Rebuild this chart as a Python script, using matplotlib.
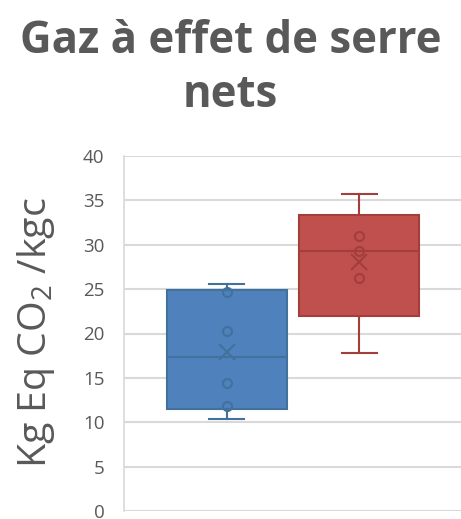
import numpy as np
import matplotlib
matplotlib.use("Agg")
import matplotlib.pyplot as plt

# Data
categories = ["Série 1", "Série 2"]
series_a = [10.4, 11.85, 14.4, 20.3, 24.7, 25.6]
series_b = [17.75, 26.3, 29.35, 31.0, 35.7]
yticks = [0, 5, 10, 15, 20, 25, 30, 35, 40]

title_lines = ["Gaz à effet de serre", "nets"]
ylabel = "Kg Eq CO$_2$ /kgc"

fills = ["#4f81bd", "#c0504d"]
edges = ["#41719c", "#a33e3b"]
text_col = "#595959"

plt.rcParams["mathtext.fontset"] = "custom"
plt.rcParams["mathtext.rm"] = "Open Sans"
plt.rcParams["mathtext.it"] = "Open Sans"

fig = plt.figure(figsize=(4.61, 5.19), dpi=100)
W, H = 461, 519
ax = fig.add_axes([124 / W, 8 / H, 1 - 124 / W, 355 / H])

positions = [1, 2]
for data, pos, fc, ec in zip([series_a, series_b], positions, fills, edges):
    d = np.array(data)
    q1, med, q3 = np.percentile(d, [25, 50, 75], method="weibull")
    stats = [dict(med=med, q1=q1, q3=q3, whislo=d.min(), whishi=d.max(),
                  mean=d.mean(), fliers=[])]
    ax.bxp(stats, positions=[pos], widths=0.905, capwidths=0.266,
           patch_artist=True, showmeans=True, meanline=False,
           boxprops=dict(facecolor=fc, edgecolor=ec, linewidth=1.5),
           medianprops=dict(color=ec, linewidth=1.5),
           whiskerprops=dict(color=ec, linewidth=1.5),
           capprops=dict(color=ec, linewidth=1.5),
           meanprops=dict(marker="x", markeredgecolor=ec, markersize=12,
                          markeredgewidth=1.5),
           zorder=3)
    inner = d[(d > d.min()) & (d < d.max())]
    ax.plot([pos] * len(inner), inner, linestyle="none", marker="o",
            markersize=6.5, markerfacecolor="none", markeredgecolor=ec,
            markeredgewidth=1.5, zorder=4)

ax.set_xlim(0.2255, 2.767)
ax.set_ylim(0, 40)
ax.set_yticks(yticks)
ax.set_yticklabels([str(t) for t in yticks], fontsize=13.5, color=text_col,
                   family="Open Sans")
ax.set_xticks([])
ax.tick_params(axis="y", length=0, pad=14)
ax.yaxis.grid(True, color="#d9d9d9", linewidth=1.5)
ax.set_axisbelow(True)
for s in ["top", "right", "bottom"]:
    ax.spines[s].set_visible(False)
ax.spines["left"].set_color("#d9d9d9")
ax.spines["left"].set_linewidth(1.2)

renderer = fig.canvas.get_renderer()

def fit(t, target_px, horizontal=True):
    bb = t.get_window_extent(renderer)
    cur = bb.width if horizontal else bb.height
    t.set_fontsize(t.get_fontsize() * target_px / cur)

t1 = fig.text(0.5, 1 - 53 / H, title_lines[0], ha="center", va="baseline",
              fontsize=30, fontweight="bold", color=text_col, family="Open Sans")
fit(t1, 422)
t2 = fig.text(0.5, 1 - 107 / H, title_lines[1], ha="center", va="baseline",
              fontsize=t1.get_fontsize(), fontweight="bold", color=text_col,
              family="Open Sans")
yl = fig.text(36 / W, 1 - 332.5 / H, ylabel, rotation=90, ha="center",
              va="center", fontsize=22, color=text_col, family="Open Sans")
fit(yl, 271, horizontal=False)

fig.savefig("out.png", dpi=100)
